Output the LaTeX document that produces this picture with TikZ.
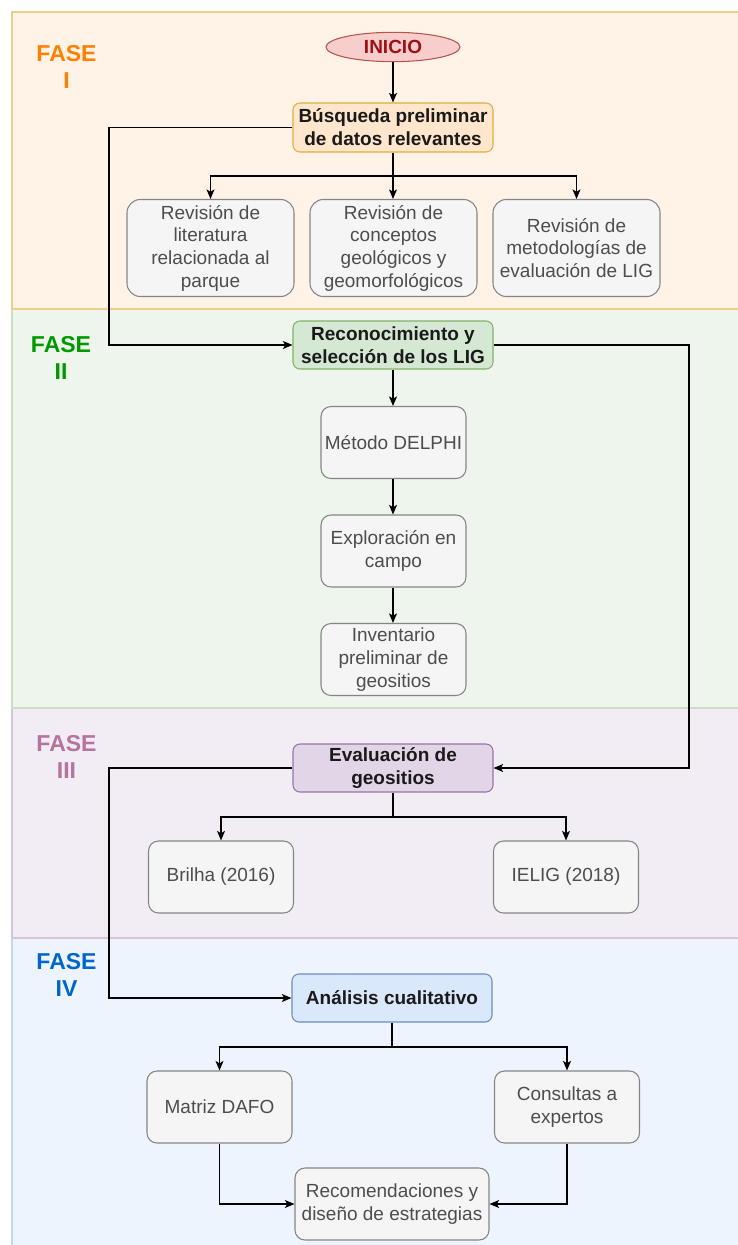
\documentclass[tikz,border=0pt]{standalone}
\usepackage{fontspec}
\setmainfont{Liberation Sans}
\usetikzlibrary{arrows.meta,shapes.geometric}
\definecolor{bandIf}{HTML}{FFF3E8}\definecolor{bandId}{HTML}{EBCF8A}
\definecolor{bandIIf}{HTML}{EEF5EC}\definecolor{bandIId}{HTML}{C8DFC0}
\definecolor{bandIIIf}{HTML}{F2ECF4}\definecolor{bandIIId}{HTML}{D5C3DC}
\definecolor{bandIVf}{HTML}{EEF4FD}\definecolor{bandIVd}{HTML}{C4D6F0}
\definecolor{faseI}{HTML}{FF8000}\definecolor{faseII}{HTML}{009900}
\definecolor{faseIII}{HTML}{B5739D}\definecolor{faseIV}{HTML}{0066CC}
\definecolor{greyfill}{HTML}{F5F5F5}\definecolor{greydraw}{HTML}{858585}
\definecolor{greytext}{HTML}{4D4D4D}\definecolor{darktext}{HTML}{1A1A1A}
\definecolor{redfill}{HTML}{F8CECC}\definecolor{reddraw}{HTML}{B85450}\definecolor{redtext}{HTML}{A00F14}
\definecolor{orfill}{HTML}{FFE6CC}\definecolor{ordraw}{HTML}{E0AE3E}
\definecolor{grfill}{HTML}{D5E8D4}\definecolor{grdraw}{HTML}{82B366}
\definecolor{pufill}{HTML}{E1D5E7}\definecolor{pudraw}{HTML}{9673A6}
\definecolor{blfill}{HTML}{DAE8FC}\definecolor{bldraw}{HTML}{6C8EBF}
\tikzset{
  x=0.75pt, y=-0.75pt,
  greybox/.style={rectangle, draw=greydraw, fill=greyfill, text=greytext, line width=0.8pt,
    font=\fontsize{14.25}{17}\selectfont, align=center, inner sep=0pt},
  tallbox/.style={greybox, rounded corners=10pt, minimum width=125.25pt, minimum height=72.75pt},
  midbox/.style={greybox, rounded corners=7.5pt, minimum width=108.75pt, minimum height=54pt},
  mainbox/.style={rectangle, rounded corners=5.25pt, line width=0.8pt, text=darktext,
    font=\bfseries\fontsize{14.25}{17.25}\selectfont, align=center, inner sep=0pt,
    minimum width=150pt, minimum height=36pt},
  fase/.style={font=\bfseries\fontsize{17.25}{20.25}\selectfont, align=center, inner sep=0pt},
  arr/.style={line width=0.9pt, -{Stealth[length=7.2pt,width=6pt,inset=1.8pt]}},
  ln/.style={line width=0.9pt},
}
\begin{document}
\begin{tikzpicture}
\useasboundingbox (0,0) rectangle (738,1245);
% phase bands
\begin{scope}
\clip (0,0) rectangle (738,1245);
\fill[bandIf] (12,12) rectangle (760,309);
\fill[bandIIf] (12,309) rectangle (760,708);
\fill[bandIIIf] (12,708) rectangle (760,938);
\fill[bandIVf] (12,938) rectangle (760,1265);
\draw[bandIVd, line width=0.8pt] (12,938) rectangle (760,1265);
\draw[bandIIId, line width=0.8pt] (12,708) rectangle (760,938);
\draw[bandIId, line width=0.8pt] (12,309) rectangle (760,708);
\draw[bandId, line width=0.8pt] (12,12) rectangle (760,309);
\end{scope}
% phase labels
\node[fase, text=faseI] (f1) at (66.5,67) {FASE\\I};
\node[fase, text=faseII] (f2) at (61,357.5) {FASE\\II};
\node[fase, text=faseIII] (f3) at (66.5,756.5) {FASE\\III};
\node[fase, text=faseIV] (f4) at (66.5,974.5) {FASE\\IV};
% nodes
\node[ellipse, draw=reddraw, fill=redfill, line width=0.8pt, text=redtext, inner sep=0pt,
  minimum width=100.5pt, minimum height=22pt, font=\bfseries\fontsize{14.25}{17}\selectfont] (inicio) at (393,47) {INICIO};
\node[mainbox, draw=ordraw, fill=orfill, minimum height=36.75pt] (busq) at (393,127.5) {Búsqueda preliminar\\de datos relevantes};
\node[tallbox] (rev1) at (210.5,248) {Revisión de\\literatura\\relacionada al\\parque};
\node[tallbox] (rev2) at (393.5,248) {Revisión de\\conceptos\\geológicos y\\geomorfológicos};
\node[tallbox] (rev3) at (576.5,248) {Revisión de\\metodologías de\\evaluación de LIG};
\node[mainbox, draw=grdraw, fill=grfill] (reco) at (393,345) {Reconocimiento y\\selección de los LIG};
\node[midbox] (metodo) at (393.5,442.5) {Método DELPHI};
\node[midbox] (explo) at (393.5,551) {Exploración en\\campo};
\node[midbox] (inv) at (393.5,659.5) {Inventario\\preliminar de\\geositios};
\node[mainbox, draw=pudraw, fill=pufill] (eval) at (393,768) {Evaluación de\\geositios};
\node[midbox] (brilha) at (221,877) {Brilha (2016)};
\node[midbox] (ielig) at (566,877) {IELIG (2018)};
\node[mainbox, draw=bldraw, fill=blfill] (anal) at (392,998) {Análisis cualitativo};
\node[midbox] (dafo) at (219.5,1107) {Matriz DAFO};
\node[midbox] (cons) at (567,1107) {Consultas a\\expertos};
\node[midbox, minimum width=145.5pt] (recom) at (392,1204) {Recomendaciones y\\diseño de estrategias};
% junction coordinates
\coordinate (j1) at (393,176);
\coordinate (L1) at (109,127.5);
\coordinate (R1) at (689,345);
\coordinate (L2) at (109,768);
\coordinate (j2) at (393,817);
\coordinate (j3) at (392,1047);
% connectors
\draw[arr] (inicio) -- (busq);
\draw[ln] (busq.south) -- (j1);
\draw[arr] (j1) -| (rev1.north);
\draw[arr] (j1) -| (rev3.north);
\draw[arr] (j1) -- (rev2.north -| j1);
\draw[arr] (busq.west) -- (L1) |- (reco.west);
\draw[arr] (reco.east) -- (R1) |- (eval.east);
\draw[arr] (reco.south) -- (metodo.north -| reco.south);
\draw[arr] (metodo.south -| reco.south) -- (explo.north -| reco.south);
\draw[arr] (explo.south -| reco.south) -- (inv.north -| reco.south);
\draw[arr] (eval.west) -- (L2) |- (anal.west);
\draw[ln] (eval.south) -- (j2);
\draw[arr] (j2) -| (brilha.north);
\draw[arr] (j2) -| (ielig.north);
\draw[ln] (anal.south) -- (j3);
\draw[arr] (j3) -| (dafo.north);
\draw[arr] (j3) -| (cons.north);
\draw[arr] (dafo.south) |- (recom.west);
\draw[arr] (cons.south) |- (recom.east);
\end{tikzpicture}
\end{document}
